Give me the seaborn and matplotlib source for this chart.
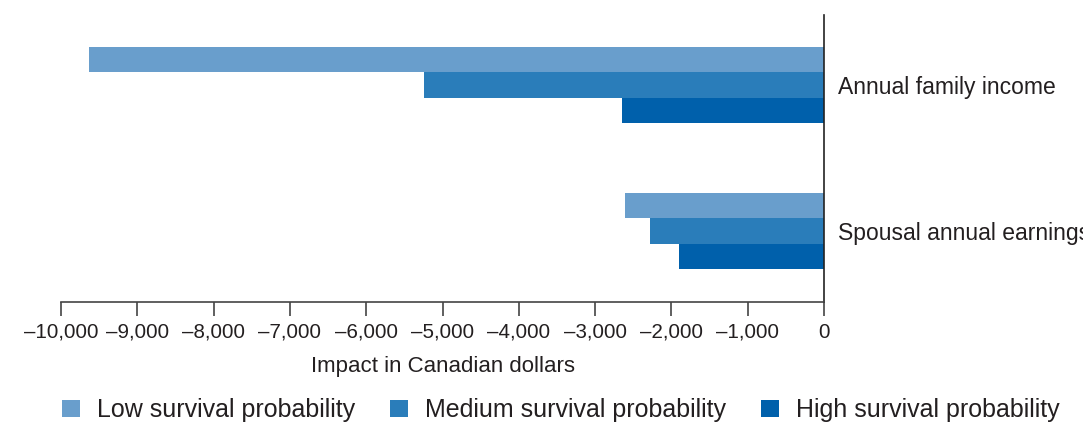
import pandas as pd
import numpy as np
from matplotlib import pyplot as plt
from matplotlib.ticker import FuncFormatter
from matplotlib.patches import Patch
import seaborn as sns

# data
categories = ["Annual family income", "Spousal annual earnings"]
groups = ["Low survival probability", "Medium survival probability", "High survival probability"]
low_vals = [-9630, -2610]
medium_vals = [-5240, -2280]
high_vals = [-2650, -1900]
x_ticks = [-10000, -9000, -8000, -7000, -6000, -5000, -4000, -3000, -2000, -1000, 0]
colors = ["#699ECC", "#2A7DBA", "#0060AB"]
text_color = "#231F20"

df = pd.DataFrame({
    "category": categories * 3,
    "group": [groups[0]] * 2 + [groups[1]] * 2 + [groups[2]] * 2,
    "value": low_vals + medium_vals + high_vals,
})

sns.set_theme(style="white")
plt.rcParams["font.family"] = ["Liberation Sans", "DejaVu Sans"]
plt.rcParams["text.color"] = text_color
plt.rcParams["axes.labelcolor"] = text_color
plt.rcParams["xtick.color"] = text_color

fig = plt.figure(figsize=(10.83, 4.23), dpi=100)
ax = fig.add_axes([0.0563, 0.286, 0.7046, 0.6785])

sns.barplot(data=df, y="category", x="value", hue="group", hue_order=groups,
            palette=colors, width=0.52, saturation=1, orient="h", ax=ax,
            legend=False, linewidth=0, edgecolor="none")

ax.set_xlim(-10000, 0)
ax.set_ylim(1.486, -0.479)
ax.set_xticks(x_ticks)
ax.xaxis.set_major_formatter(FuncFormatter(lambda v, p: "0" if v == 0 else "\u2013{:,}".format(int(abs(v)))))
ax.tick_params(axis="x", direction="out", length=10, width=1.2, color="#444444",
               labelsize=14.8, pad=5, bottom=True)
ax.yaxis.tick_right()
ax.tick_params(axis="y", length=0, labelsize=16.5, pad=10, colors=text_color)
for lbl in ax.get_yticklabels():
    lbl.set_verticalalignment("center_baseline")
ax.set_ylabel("")
ax.set_xlabel("Impact in Canadian dollars", fontsize=16, labelpad=10)

for side in ["top", "left"]:
    ax.spines[side].set_visible(False)
ax.spines["bottom"].set_color("#444444")
ax.spines["bottom"].set_linewidth(1.2)
ax.spines["right"].set_color("#222222")
ax.spines["right"].set_linewidth(1.2)

handles = [Patch(facecolor=c, edgecolor="none") for c in colors]
fig.legend(handles, groups, loc="center", bbox_to_anchor=(0.518, 0.03), ncol=3,
           frameon=False, fontsize=18, handlelength=0.7, handleheight=0.7,
           handletextpad=0.7, columnspacing=1.4)

fig.savefig("out.png", dpi=100)
